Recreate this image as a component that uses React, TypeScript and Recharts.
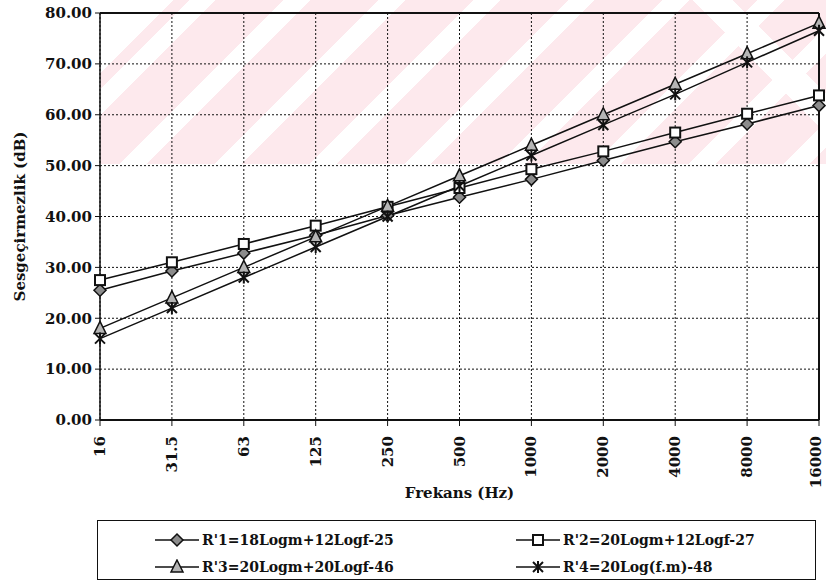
import React from 'react';
import {
  LineChart,
  Line,
  XAxis,
  YAxis,
  CartesianGrid,
  ReferenceLine,
} from 'recharts';

// frekans bantları (Hz)
const frequencies = ['16', '31.5', '63', '125', '250', '500', '1000', '2000', '4000', '8000', '16000'];

// değerler (dB)
const r1Values = [25.5, 29.3, 32.8, 36.3, 40.2, 43.8, 47.3, 51.0, 54.7, 58.2, 61.8];
const r2Values = [27.5, 31.0, 34.6, 38.2, 41.9, 45.6, 49.3, 52.8, 56.5, 60.2, 63.8];
const r3Values = [18.0, 24.0, 30.0, 36.0, 42.0, 48.0, 54.0, 60.0, 66.0, 72.0, 78.0];
const r4Values = [16.0, 22.0, 28.0, 34.0, 40.0, 46.0, 52.0, 58.0, 64.0, 70.3, 76.5];

const seriesNames = [
  "R'1=18Logm+12Logf-25",
  "R'2=20Logm+12Logf-27",
  "R'3=20Logm+20Logf-46",
  "R'4=20Log(f.m)-48",
];

const yTicks = [0, 10, 20, 30, 40, 50, 60, 70, 80];

const data = frequencies.map((f, i) => ({
  f,
  r1: r1Values[i],
  r2: r2Values[i],
  r3: r3Values[i],
  r4: r4Values[i],
}));

const FONT = '"DejaVu Serif", "Liberation Serif", serif';
const INK = '#111';
const PINK = '#fde9ed';

type Kind = 'diamond' | 'square' | 'triangle' | 'star';

const Marker = ({ kind, cx, cy }: { kind: Kind; cx: number; cy: number }) => {
  if (kind === 'diamond') {
    return (
      <polygon
        points={`${cx},${cy - 6} ${cx + 6},${cy} ${cx},${cy + 6} ${cx - 6},${cy}`}
        fill="#8c8c8c"
        stroke={INK}
        strokeWidth={1.5}
      />
    );
  }
  if (kind === 'square') {
    return <rect x={cx - 5} y={cy - 5} width={10} height={10} fill="#fff" stroke={INK} strokeWidth={2} />;
  }
  if (kind === 'triangle') {
    return (
      <polygon
        points={`${cx},${cy - 7} ${cx + 6},${cy + 5} ${cx - 6},${cy + 5}`}
        fill="#b5b5b5"
        stroke={INK}
        strokeWidth={1.5}
      />
    );
  }
  return (
    <g stroke={INK} strokeWidth={2}>
      <line x1={cx - 5} y1={cy - 5} x2={cx + 5} y2={cy + 5} />
      <line x1={cx + 5} y1={cy - 5} x2={cx - 5} y2={cy + 5} />
      <line x1={cx} y1={cy - 6} x2={cx} y2={cy + 6} />
    </g>
  );
};

const dotFor = (kind: Kind) => (p: any) => (
  <Marker key={`${kind}-${p.index}`} kind={kind} cx={p.cx} cy={p.cy} />
);

const XTick = ({ x, y, payload }: any) => {
  // son etiket kenara yapışmasın
  const tx = Math.min(x, 816);
  return (
    <text
      x={tx}
      y={y + 8}
      transform={`rotate(-90 ${tx} ${y + 8})`}
      textAnchor="end"
      dominantBaseline="central"
      fontFamily={FONT}
      fontWeight="bold"
      fontSize={15}
      fill={INK}
    >
      {payload.value}
    </text>
  );
};

const kinds: Kind[] = ['diamond', 'square', 'triangle', 'star'];

const LegendItem = ({ i }: { i: number }) => (
  <div style={{ display: 'flex', alignItems: 'center', height: 27 }}>
    <svg width={44} height={16}>
      <line x1={0} y1={8} x2={44} y2={8} stroke={INK} strokeWidth={1.5} />
      <Marker kind={kinds[i]} cx={22} cy={8} />
    </svg>
    <span style={{ marginLeft: 3, fontFamily: FONT, fontWeight: 'bold', fontSize: 14, color: INK }}>
      {seriesNames[i]}
    </span>
  </div>
);

export default function App() {
  return (
    <div style={{ position: 'absolute', left: 0, top: 0, width: 826, height: 584, background: '#fff' }}>
      {/* soluk pembe filigran */}
      <div
        style={{
          position: 'absolute',
          left: 100,
          top: 0,
          width: 726,
          height: 164,
          background: [
            'linear-gradient(45deg, transparent 85%, #fff 85%, #fff 89.5%, transparent 89.5%)',
            'linear-gradient(135deg, #fff 0px, #fff 52px, transparent 52px)',
            `repeating-linear-gradient(135deg, #fff 0px, #fff 15px, ${PINK} 15px, ${PINK} 63px, #fff 63px, #fff 67px)`,
          ].join(', '),
        }}
      />
      <div style={{ position: 'absolute', left: 0, top: 0 }}>
        <LineChart width={826} height={584} data={data} margin={{ top: 13, right: 7, left: 0, bottom: 84 }}>
          <CartesianGrid stroke={INK} strokeDasharray="2 2" strokeWidth={1} />
          <XAxis
            dataKey="f"
            height={80}
            tick={<XTick />}
            tickSize={6}
            interval={0}
            axisLine={{ stroke: INK, strokeWidth: 2 }}
            tickLine={{ stroke: INK }}
            label={{
              value: 'Frekans (Hz)',
              position: 'insideBottom',
              offset: 2,
              style: { fontFamily: FONT, fontWeight: 'bold', fontSize: 15, fill: INK },
            }}
          />
          <YAxis
            width={100}
            domain={[0, 80]}
            ticks={yTicks}
            tickFormatter={(v: number) => v.toFixed(2)}
            tickSize={5}
            tickMargin={3}
            axisLine={{ stroke: INK, strokeWidth: 1.5 }}
            tickLine={{ stroke: INK }}
            tick={{ fontFamily: FONT, fontWeight: 'bold', fontSize: 15, fill: INK }}
            label={{
              value: 'Sesgeçirmezlik (dB)',
              angle: -90,
              position: 'insideLeft',
              offset: 20,
              style: { textAnchor: 'middle', fontFamily: FONT, fontWeight: 'bold', fontSize: 15, fill: INK },
            }}
          />
          <ReferenceLine y={80} stroke={INK} strokeWidth={2} />
          <ReferenceLine x="16000" stroke={INK} strokeWidth={2} />
          <Line dataKey="r1" stroke={INK} strokeWidth={1.5} dot={dotFor('diamond')} isAnimationActive={false} />
          <Line dataKey="r2" stroke={INK} strokeWidth={1.5} dot={dotFor('square')} isAnimationActive={false} />
          <Line dataKey="r3" stroke={INK} strokeWidth={1.5} dot={dotFor('triangle')} isAnimationActive={false} />
          <Line dataKey="r4" stroke={INK} strokeWidth={1.5} dot={dotFor('star')} isAnimationActive={false} />
        </LineChart>
      </div>
      {/* açıklama kutusu */}
      <div
        style={{
          position: 'absolute',
          left: 97,
          top: 520,
          width: 719,
          height: 60,
          border: `1.5px solid ${INK}`,
          boxSizing: 'border-box',
          display: 'grid',
          gridTemplateColumns: '361px 1fr',
          paddingTop: 5,
          paddingLeft: 57,
        }}
      >
        <LegendItem i={0} />
        <LegendItem i={1} />
        <LegendItem i={2} />
        <LegendItem i={3} />
      </div>
    </div>
  );
}
